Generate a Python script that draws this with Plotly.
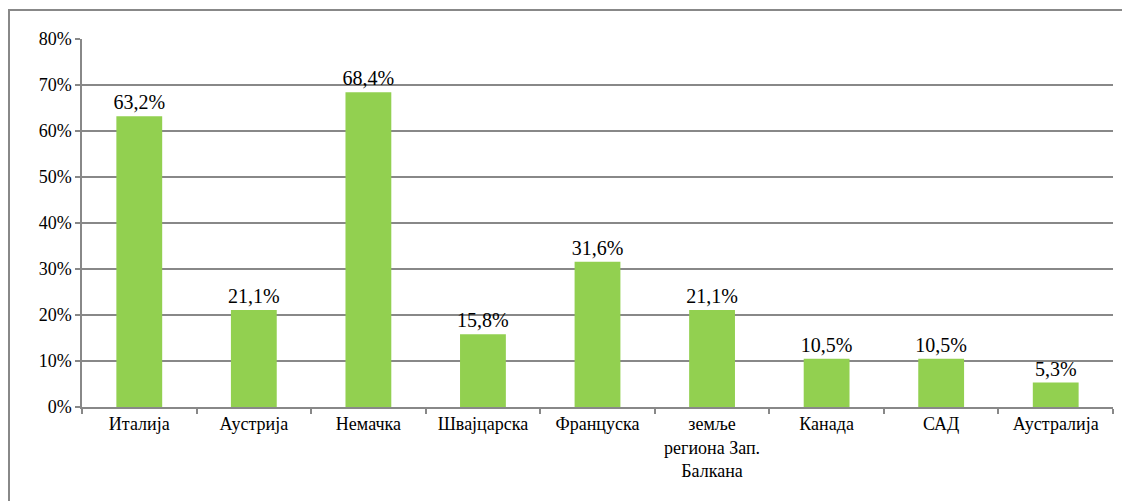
import plotly.graph_objects as go

categories = ["Италија", "Аустрија", "Немачка", "Швајцарска", "Француска",
              "земље<br>региона Зап.<br>Балкана", "Канада", "САД", "Аустралија"]
values = [63.2, 21.1, 68.4, 15.8, 31.6, 21.1, 10.5, 10.5, 5.3]
labels = [f"{v:.1f}%".replace(".", ",") for v in values]
y_ticks = [0, 10, 20, 30, 40, 50, 60, 70, 80]

FONT = "Times New Roman"
GRID = "#888888"

fig = go.Figure(go.Bar(
    x=categories, y=values, text=labels, textposition="outside",
    textfont=dict(family=FONT, size=20, color="black"),
    constraintext="none",
    marker=dict(color="#92D050", line=dict(width=0)),
    cliponaxis=False,
))

# page is offset by the 8px body margin
W, H = 1122, 493
L, T = 74, 31
R = W - 1105
B = H - 399
pw, ph = W - L - R, H - T - B

fig.update_layout(
    template="none",
    width=W, height=H,
    margin=dict(l=L, r=R, t=T, b=B, autoexpand=False),
    paper_bgcolor="white", plot_bgcolor="white",
    bargap=0.6, showlegend=False,
    shapes=[dict(type="rect", xref="paper", yref="paper",
                 x0=(1 - L) / pw, x1=1.2, y0=-0.6, y1=(H - B - 2) / ph,
                 line=dict(color=GRID, width=2), fillcolor="rgba(0,0,0,0)", layer="below")],
)
fig.update_yaxes(range=[0, 80], tickvals=y_ticks, ticktext=[f"{t}%" for t in y_ticks],
                 showgrid=True, gridcolor=GRID, gridwidth=1.5,
                 showline=True, linecolor=GRID, linewidth=1.5,
                 ticks="outside", ticklen=5, tickcolor=GRID, tickwidth=1.5,
                 zeroline=False, tickfont=dict(family=FONT, size=18, color="black"))
fig.update_xaxes(showline=True, linecolor=GRID, linewidth=1.5,
                 ticks="outside", tickson="boundaries", ticklen=5, tickcolor=GRID, tickwidth=1.5,
                 showgrid=False, tickangle=0, tickfont=dict(family=FONT, size=18, color="black"))

fig.write_html("out.html")
